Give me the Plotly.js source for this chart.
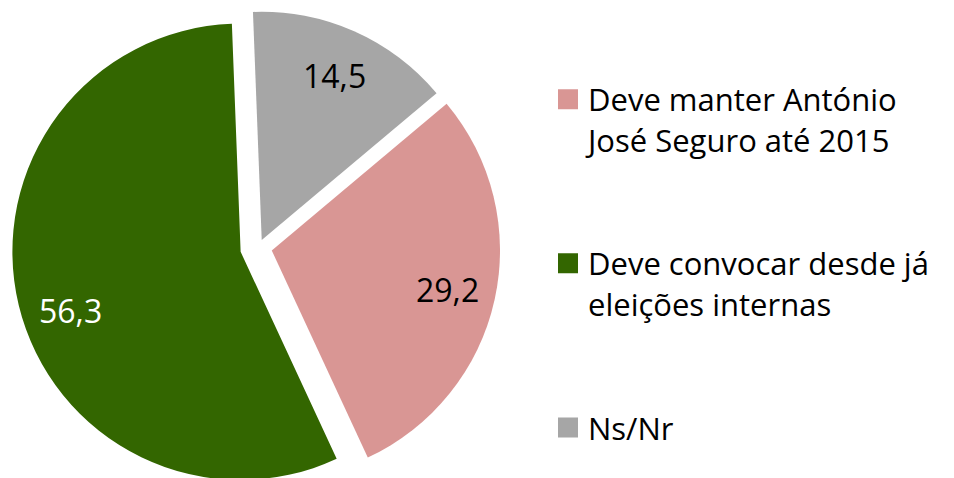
<!DOCTYPE html>
<html>
<head>
<meta charset="utf-8">
<script src="https://cdn.plot.ly/plotly-3.0.1.min.js"></script>
<style>
  html, body { margin: 0; padding: 0; overflow: hidden; background: #ffffff; }
  #chart { width: 954px; height: 494px; }
</style>
</head>
<body>
<div id="chart"></div>
<script>
// ---- data ----
const categories = ['Deve manter António<br>José Seguro até 2015', 'Deve convocar desde já<br>eleições internas', 'Ns/Nr'];
const values = [29.2, 56.3, 14.5];

// ---- styles ----
const colors = ['#D99694', '#336600', '#A6A6A6'];
const labelColors = ['#000000', '#ffffff', '#000000'];
const pulls = [0.060, 0.080, 0.036];
const labelAngleShift = [0, -4.9, 0];
const rotation = 50;
const FONT = '"Open Sans", "Noto Sans", "Liberation Sans", sans-serif';

// ---- layout geometry ----
const W = 954, H = 494;
const M = {l: 0, r: 0, t: 1, b: 0};
const domX = [0.0108, 0.5309], domY = [0, 1];
const plotW = W - M.l - M.r, plotH = H - M.t - M.b;
const rx = plotW * (domX[1] - domX[0]) / 2, ry = plotH * (domY[1] - domY[0]) / 2;
const maxPull = Math.max(...pulls);
const r = Math.min(rx, ry) / (1 + maxPull);
const cx = M.l + plotW * (domX[0] + domX[1]) / 2;
const cy = M.t + plotH * (2 - domY[0] - domY[1]) / 2;

// legend names with spacing lines so entries are evenly spaced
const legendNames = categories.map((c, i) => i < categories.length - 1 ? c + '<br>\u00a0<br>\u00a0' : c);

// value labels placed inside slices, computed from data
const total = values.reduce((a, b) => a + b, 0);
const kText = 0.787;
let ang = rotation;
const annotations = values.map((v, i) => {
  const span = v / total * 360;
  const mid = (ang + span / 2 + labelAngleShift[i]) * Math.PI / 180;
  ang += span;
  const d = (pulls[i] + kText) * r;
  const px = cx + d * Math.sin(mid);
  const py = cy - d * Math.cos(mid);
  return {
    xref: 'paper', yref: 'paper',
    x: (px - M.l) / plotW, y: 1 - (py - M.t) / plotH,
    xanchor: 'center', yanchor: 'middle',
    text: v.toFixed(1).replace('.', ','),
    showarrow: false,
    font: {family: FONT, size: 32, color: labelColors[i]}
  };
});

const trace = {
  type: 'pie',
  labels: legendNames,
  values: values,
  sort: false,
  direction: 'clockwise',
  rotation: rotation,
  pull: pulls,
  marker: {colors: colors, line: {width: 0}},
  textinfo: 'none',
  hoverinfo: 'skip',
  domain: {x: domX, y: domY}
};

const layout = {
  width: W, height: H,
  margin: M,
  paper_bgcolor: '#ffffff',
  plot_bgcolor: '#ffffff',
  showlegend: true,
  legend: {
    x: 548 / 954, xanchor: 'left',
    y: 0.855, yanchor: 'top',
    valign: 'top',
    font: {family: FONT, size: 31, color: '#000000'},
    bgcolor: 'rgba(0,0,0,0)',
    traceorder: 'normal'
  },
  annotations: annotations
};

Plotly.newPlot('chart', [trace], layout, {displayModeBar: false, staticPlot: true}).then(() => {
  document.querySelectorAll('.legendpie').forEach(p => p.setAttribute('d', 'M10,10H-10V-10H10Z'));
});
</script>
</body>
</html>
